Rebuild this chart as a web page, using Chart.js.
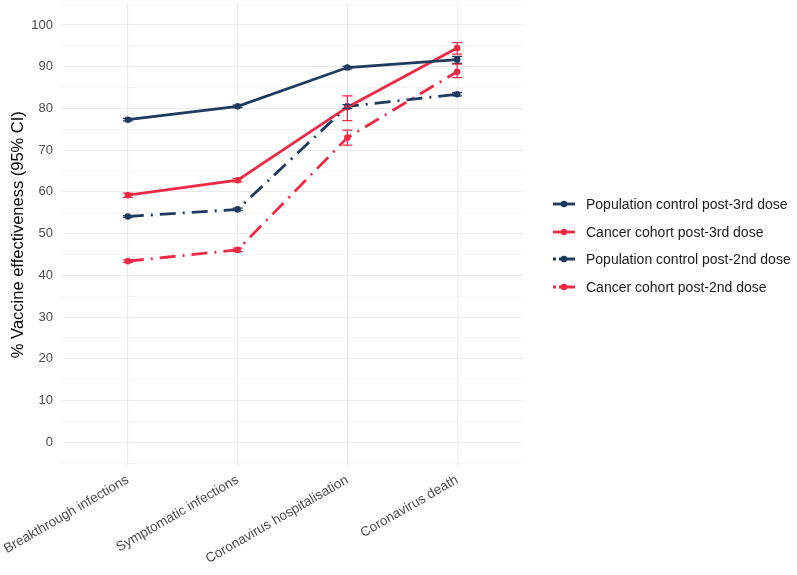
<!DOCTYPE html>
<html>
<head>
<meta charset="utf-8">
<script src="https://cdn.jsdelivr.net/npm/chart.js@4.4.0/dist/chart.umd.min.js"></script>
<style>
  body { margin: 0; background: #fff; }
  #wrap { position: relative; width: 797px; height: 575px; }
  #legend { position: absolute; left: 553px; top: 190px; font-family: "Liberation Sans", Arial, sans-serif; font-size: 14px; color: #1a1a1a; }
  .row { height: 27.8px; display: flex; align-items: center; }
  .row svg { margin-right: 11px; }
</style>
</head>
<body>
<div id="wrap">
  <canvas id="chart" width="797" height="575"></canvas>
  <div id="legend"></div>
</div>
<script>
// ================================
// DATA
// ================================
const categories = ["Breakthrough infections", "Symptomatic infections", "Coronavirus hospitalisation", "Coronavirus death"];
const seriesNames = ["Population control post-3rd dose", "Cancer cohort post-3rd dose", "Population control post-2nd dose", "Cancer cohort post-2nd dose"];

const pop3rd = [77.3, 80.5, 89.8, 91.7];
const pop3rdLow = [77.0, 80.2, 89.5, 90.8];
const pop3rdHigh = [77.6, 80.8, 90.1, 92.5];

const cancer3rd = [59.2, 62.8, 80.3, 94.5];
const cancer3rdLow = [58.7, 62.4, 77.1, 93.0];
const cancer3rdHigh = [59.7, 63.2, 83.0, 95.8];

const pop2nd = [54.1, 55.8, 80.5, 83.4];
const pop2ndLow = [53.9, 55.5, 80.0, 83.0];
const pop2ndHigh = [54.3, 56.1, 80.9, 83.8];

const cancer2nd = [43.4, 46.1, 73.0, 88.8];
const cancer2ndLow = [43.1, 45.7, 71.2, 87.4];
const cancer2ndHigh = [43.7, 46.5, 74.8, 90.6];

const yTicks = [0, 10, 20, 30, 40, 50, 60, 70, 80, 90, 100];

const NAVY = "#1f3a5f";
const RED = "#ee2a45";
const FONT = "'Liberation Sans', Arial, sans-serif";

// ================================
// BUILD DATASETS
// ================================
function pts(vals) {
    return vals.map((v, i) => ({ x: i, y: v }));
}

function makeSet(label, vals, low, high, color, dash) {
    return {
        label: label,
        data: pts(vals),
        low: low,
        high: high,
        borderColor: color,
        backgroundColor: color,
        borderWidth: 2.8,
        borderDash: dash,
        pointRadius: 3.3,
        pointHoverRadius: 3.3,
        pointBorderWidth: 0,
        tension: 0,
        fill: false
    };
}

const dotDash = [16, 7, 2, 7];

const datasets = [
    makeSet(seriesNames[0], pop3rd, pop3rdLow, pop3rdHigh, NAVY, []),
    makeSet(seriesNames[1], cancer3rd, cancer3rdLow, cancer3rdHigh, RED, []),
    makeSet(seriesNames[2], pop2nd, pop2ndLow, pop2ndHigh, NAVY, dotDash),
    makeSet(seriesNames[3], cancer2nd, cancer2ndLow, cancer2ndHigh, RED, dotDash)
];

// error bars drawn through the scales
const errorBars = {
    id: "errorBars",
    afterDatasetsDraw(chart) {
        const ctx = chart.ctx;
        const xs = chart.scales.x, ys = chart.scales.y;
        ctx.save();
        chart.data.datasets.forEach(ds => {
            ctx.strokeStyle = ds.borderColor;
            ctx.lineWidth = 1.2;
            ds.data.forEach((p, i) => {
                const x = xs.getPixelForValue(p.x);
                const y1 = ys.getPixelForValue(ds.low[i]);
                const y2 = ys.getPixelForValue(ds.high[i]);
                ctx.beginPath();
                ctx.moveTo(x, y1); ctx.lineTo(x, y2);
                ctx.moveTo(x - 5, y1); ctx.lineTo(x + 5, y1);
                ctx.moveTo(x - 5, y2); ctx.lineTo(x + 5, y2);
                ctx.stroke();
            });
        });
        ctx.restore();
    }
};

// ================================
// PLOT
// ================================
new Chart(document.getElementById("chart").getContext("2d"), {
    type: "line",
    data: { datasets: datasets },
    plugins: [errorBars],
    options: {
        responsive: false,
        animation: false,
        layout: { padding: { top: 0, right: 274, left: 0, bottom: 0 } },
        plugins: { legend: { display: false }, tooltip: { enabled: false } },
        scales: {
            x: {
                type: "linear",
                min: -0.6,
                max: 3.6,
                afterBuildTicks: s => { s.ticks = categories.map((c, i) => ({ value: i })); },
                afterFit: s => { s.height = 109; s.paddingLeft = 0; s.paddingRight = 0; },
                grid: { color: "#ebebeb", lineWidth: 1.1, drawTicks: false },
                border: { display: false },
                ticks: {
                    autoSkip: false,
                    minRotation: 30,
                    maxRotation: 30,
                    padding: 6,
                    color: "#4d4d4d",
                    font: { family: FONT, size: 13.5 },
                    callback: v => categories[v]
                }
            },
            y: {
                min: -5.7,
                max: 105.2,
                afterBuildTicks: s => {
                    const t = [{ value: -5 }];
                    yTicks.forEach(v => { t.push({ value: v }); t.push({ value: v + 5 }); });
                    s.ticks = t;
                },
                afterFit: s => { s.width = 62; s.paddingTop = 0; s.paddingBottom = 0; },
                grid: {
                    drawTicks: false,
                    color: c => (c.tick && c.tick.value % 10 === 0) ? "#ebebeb" : "#f3f3f3",
                    lineWidth: c => (c.tick && c.tick.value % 10 === 0) ? 1.1 : 0.8
                },
                border: { display: false },
                ticks: {
                    padding: 9,
                    color: "#4d4d4d",
                    font: { family: FONT, size: 13 },
                    callback: v => (yTicks.includes(v) ? String(v) : "")
                },
                title: {
                    display: true,
                    text: "% Vaccine effectiveness (95% CI)",
                    color: "#000",
                    font: { family: FONT, size: 16.5 },
                    padding: { top: 9, bottom: 0 }
                }
            }
        }
    }
});

// ================================
// LEGEND
// ================================
const legend = document.getElementById("legend");
datasets.forEach(ds => {
    const dash = ds.borderDash.length ? 'stroke-dasharray="3,3,16"' : "";
    legend.insertAdjacentHTML("beforeend",
        `<div class="row"><svg width="22" height="10">` +
        `<line x1="0" y1="5" x2="22" y2="5" stroke="${ds.borderColor}" stroke-width="2.8" ${dash}/>` +
        `<circle cx="11" cy="5" r="3.3" fill="${ds.borderColor}"/></svg>` +
        `<span>${ds.label}</span></div>`);
});
</script>
</body>
</html>
